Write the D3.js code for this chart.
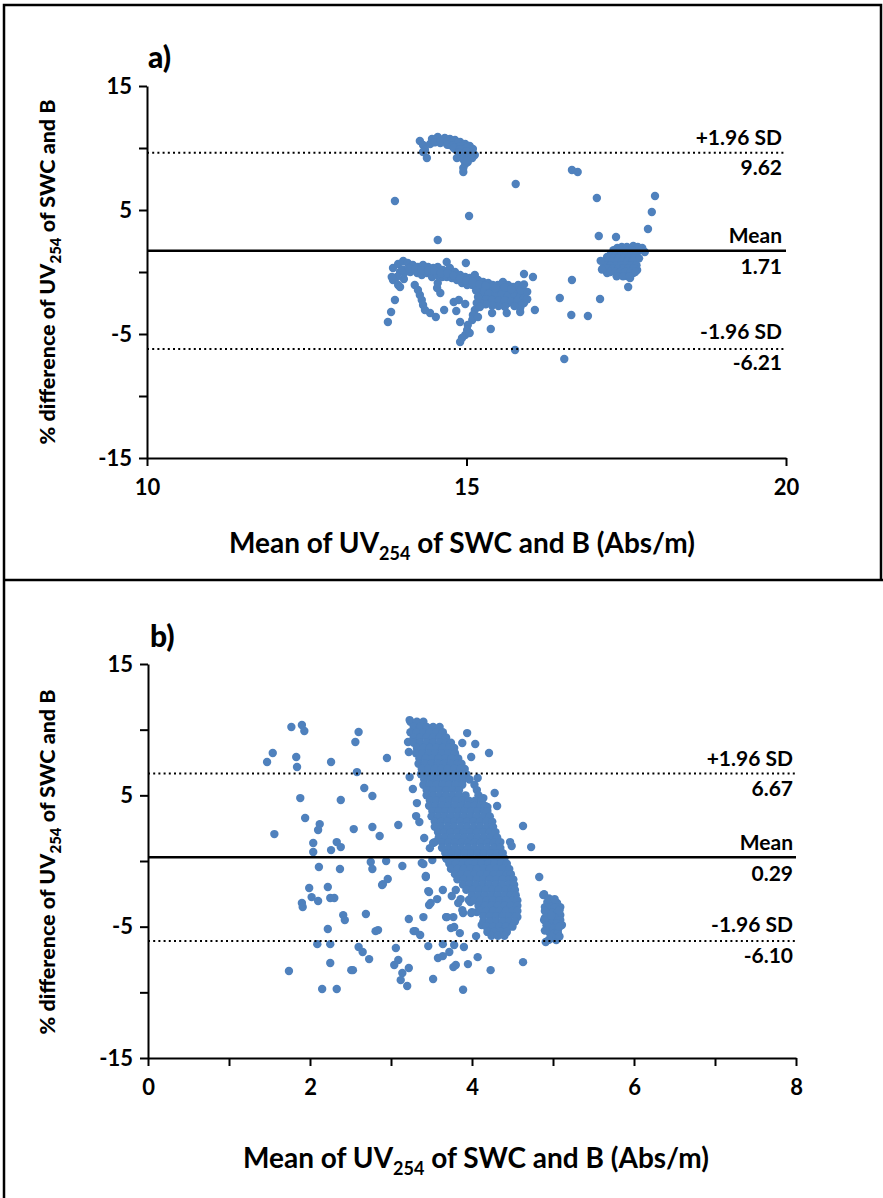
<!DOCTYPE html>
<html><head><meta charset="utf-8">
<script src="https://cdn.jsdelivr.net/npm/d3@7"></script>
<style>
body{margin:0;background:#fff}
svg{display:block}
text{font-family:Lato,"Open Sans",sans-serif;font-weight:bold;fill:#000}
</style>
</head><body>
<svg id="c" width="883" height="1198"></svg>
<script>
// ---------- Panel a data ----------
const xTicksA = [10, 15, 20];
const yTicksA = [15, 10, 5, 0, -5, -10, -15];
const yLabelsA = [15, 5, -5, -15];
const statsA = {upper: 9.62, mean: 1.71, lower: -6.21};
const pointsA = [
 [14.27,10.56],[14.32,10.24],[14.35,9.84],[14.38,9.19],[14.32,9.68],[14.46,10.73],[14.55,10.89],[14.66,10.81],
 [14.74,10.73],[14.82,10.65],[14.90,10.48],[14.98,10.32],[15.05,10.16],[15.10,9.92],[15.13,9.44],[15.09,9.19],
 [15.02,8.87],[14.98,8.71],[14.95,8.39],[14.95,8.06],[14.90,9.27],[14.74,10.24],[14.69,10.40],[14.82,9.92],
 [14.93,9.68],[15.01,9.60],[14.85,9.19],[14.43,10.32],[14.51,10.65],[14.62,10.65],[14.98,9.84],[15.05,9.68],
 [15.02,9.27],[14.59,10.40],[14.87,10.24],[14.95,10.08],
 [14.50,10.45],[14.60,10.55],[14.70,10.55],[14.78,10.50],[14.86,10.45],[14.70,10.25],[14.78,10.20],[14.90,10.15],
 [15.00,10.00],[14.80,10.00],[14.90,9.90],[15.00,9.75],[15.08,9.50],[14.95,9.50],[14.88,9.60],[15.05,9.35],
 [14.95,9.10],[15.00,9.00],
 [13.88,5.73],[15.77,7.10],[15.04,4.52],[14.55,2.58],[16.65,8.23],[16.74,8.06],[17.04,5.97],[17.95,6.13],
 [17.90,4.84],[17.84,3.47],[17.07,2.90],[17.34,2.82],[15.90,-0.16],[16.04,-0.40],[16.65,-0.65],[16.46,-2.10],
 [17.09,-2.18],[16.64,-3.47],[16.90,-3.55],[17.53,-1.21],[15.76,-6.29],[16.53,-7.02],[15.38,-4.60],[16.07,-3.06],
 [15.84,-2.90],[15.84,-3.23],[15.63,-3.31],[15.40,-3.31],[14.65,-3.06],[14.84,-3.15],[14.80,-2.42],[14.88,-2.26],
 [14.98,-2.58],[14.90,-4.03],[13.77,-4.03],[13.82,-3.23],[13.88,-2.26],[14.02,-0.56],[14.99,0.73],[14.52,-3.63],
 [14.43,-3.31],
 [13.85,0.32],[13.93,0.65],[14.01,0.89],[14.08,0.73],[14.16,0.56],[14.24,0.40],[14.32,0.56],[14.40,0.40],
 [14.48,0.32],[14.55,0.40],[14.63,0.16],[14.69,0.81],[14.74,0.32],[14.82,0.00],[14.90,-0.24],[14.98,-0.40],
 [15.05,-0.48],[15.13,-0.24],[15.18,-0.65],[15.26,-0.81],[15.34,-0.89],[15.41,-1.05],[15.49,-1.05],[15.57,-0.81],
 [15.65,-1.05],[15.73,-1.21],[15.81,-1.05],[15.87,-1.21],[13.96,0.00],[13.91,-0.40],[13.85,-0.65],[13.83,-0.40],
 [13.93,-1.05],[13.96,-1.21],[14.04,0.00],[14.12,0.00],[14.23,-0.08],[14.30,-0.24],[14.38,-0.08],[14.46,-0.40],
 [14.54,-0.24],[14.62,-0.40],[14.69,-0.40],[14.77,-0.48],[14.85,-0.65],[14.93,-0.89],[15.01,-1.05],[15.09,-1.05],
 [15.16,-1.21],[15.24,-1.29],[15.32,-1.45],[15.40,-1.61],[15.48,-1.45],[15.56,-1.45],[15.63,-1.61],[15.71,-1.69],
 [15.79,-1.69],[15.87,-1.69],[15.21,-1.85],[15.29,-2.02],[15.37,-2.02],[15.45,-2.10],[15.52,-2.02],[15.60,-2.10],
 [15.68,-2.26],[15.76,-2.26],[15.84,-2.02],[15.41,-2.42],[15.49,-2.50],[15.57,-2.50],[15.65,-2.50],[15.73,-2.42],
 [15.26,-2.26],[15.34,-2.42],
 [14.00,0.20],[14.10,0.30],[14.20,0.20],[14.30,0.15],[14.40,0.10],[14.50,0.10],[14.60,-0.10],[14.70,-0.10],
 [14.80,-0.30],[14.90,-0.50],[15.00,-0.70],[15.10,-0.80],
 [15.25,-1.60],[15.35,-1.75],[15.45,-1.80],[15.55,-1.80],[15.65,-1.90],[15.75,-1.95],[15.85,-1.90],[15.30,-2.20],
 [15.40,-2.25],[15.50,-2.30],[15.60,-2.30],[15.70,-2.35],[15.80,-2.30],[15.90,-2.10],[15.90,-2.50],[15.85,-2.70],
 [15.75,-2.75],[15.60,-2.80],[15.50,-2.75],[15.40,-2.70],[15.30,-2.60],[15.20,-2.40],[15.15,-1.50],[15.20,-1.00],
 [15.30,-1.10],[15.45,-1.30],[15.60,-1.25],[15.70,-1.40],[15.85,-1.45],[15.90,-1.00],[15.95,-1.60],[15.95,-2.20],
 [14.19,-1.05],[14.24,-1.45],[14.27,-1.85],[14.30,-2.26],[14.32,-2.66],[14.35,-3.06],[14.54,-1.29],[14.59,-1.69],
 [14.55,-0.89],
 [15.18,-2.02],[15.16,-2.50],[15.13,-3.06],[15.10,-3.47],[15.09,-3.87],[15.02,-4.27],[15.01,-4.68],[14.98,-5.08],
 [14.93,-5.32],[14.90,-5.65],[15.21,-2.82],[15.18,-3.63],[15.05,-4.92],
 [17.36,1.94],[17.43,2.02],[17.51,2.02],[17.61,2.10],[17.68,2.02],[17.75,1.94],[17.79,1.61],[17.20,1.21],
 [17.28,1.37],[17.36,1.37],[17.43,1.53],[17.51,1.53],[17.59,1.61],[17.17,0.73],[17.25,0.81],[17.32,0.81],
 [17.40,0.81],[17.48,0.97],[17.56,0.97],[17.61,1.21],[17.14,0.32],[17.20,-0.08],[17.29,0.40],[17.37,0.40],
 [17.45,0.32],[17.53,0.40],[17.43,-0.08],[17.51,-0.32],[17.56,-0.48],[17.67,0.16],[17.61,-0.08],
 [17.30,1.75],[17.40,1.75],[17.50,1.75],[17.60,1.75],[17.70,1.75],
 [17.26,1.45],[17.34,1.45],[17.42,1.45],[17.50,1.45],[17.58,1.45],[17.66,1.45],
 [17.22,1.10],[17.30,1.10],[17.38,1.10],[17.46,1.10],[17.54,1.10],[17.62,1.10],[17.70,1.10],
 [17.20,0.85],[17.28,0.85],[17.36,0.85],[17.44,0.85],[17.52,0.85],[17.60,0.85],
 [17.18,0.55],[17.26,0.55],[17.34,0.55],[17.42,0.55],[17.50,0.55],[17.58,0.55],[17.66,0.55],
 [17.22,0.30],[17.30,0.30],[17.38,0.30],[17.46,0.30],[17.54,0.30],[17.62,0.30],
 [17.25,0.00],[17.33,0.00],[17.41,0.00],[17.49,0.00],[17.57,0.00],[17.64,0.00],
 [17.35,-0.35],[17.45,-0.35],[17.55,-0.35],[17.10,0.90],[17.12,0.20]
];

// ---------- Panel b data ----------
const xTicksB = [0, 1, 2, 3, 4, 5, 6, 7, 8];
const xLabelsB = [0, 2, 4, 6, 8];
const yTicksB = [15, 10, 5, 0, -5, -10, -15];
const yLabelsB = [15, 5, -5, -15];
const statsB = {upper: 6.67, mean: 0.29, lower: -6.10};
// dense core: rows of [y, [x values]]
const coreRowsB = [
 [10.6,[3.24,3.32,3.40]],
 [10.2,[3.28,3.36,3.44,3.52,3.60]],
 [9.8,[3.24,3.32,3.40,3.48,3.56,3.64]],
 [9.4,[3.28,3.36,3.44,3.52,3.60,3.68]],
 [9.0,[3.28,3.36,3.44,3.52,3.60,3.68,3.74]],
 [8.6,[3.32,3.40,3.48,3.56,3.64,3.72,3.78]],
 [8.2,[3.31,3.39,3.47,3.55,3.63,3.71,3.79]],
 [7.8,[3.35,3.43,3.51,3.59,3.67,3.75,3.83]],
 [7.4,[3.34,3.42,3.50,3.58,3.66,3.74,3.82,3.87]],
 [7.0,[3.38,3.46,3.54,3.62,3.70,3.78,3.86,3.91]],
 [6.6,[3.37,3.45,3.53,3.61,3.69,3.77,3.85,3.93]],
 [6.2,[3.41,3.49,3.57,3.65,3.73,3.81,3.89,3.97]],
 [5.8,[3.40,3.48,3.56,3.64,3.72,3.80,3.88,4.03]],
 [5.4,[3.44,3.52,3.60,3.68,3.76,3.84,4.06]],
 [5.0,[3.44,3.52,3.60,3.68,3.76,3.84,3.92,4.08]],
 [4.6,[3.48,3.56,3.64,3.72,3.80,3.88,3.96,4.04,4.12]],
 [4.2,[3.47,3.55,3.63,3.71,3.79,3.87,3.95,4.03,4.11,4.16]],
 [3.8,[3.51,3.59,3.67,3.75,3.83,3.91,3.99,4.07,4.15,4.19]],
 [3.4,[3.50,3.58,3.66,3.74,3.82,3.90,3.98,4.06,4.14,4.22]],
 [3.0,[3.54,3.62,3.70,3.78,3.86,3.94,4.02,4.10,4.18,4.25]],
 [2.6,[3.54,3.62,3.70,3.78,3.86,3.94,4.02,4.10,4.18,4.26]],
 [2.2,[3.58,3.66,3.74,3.82,3.90,3.98,4.06,4.14,4.22,4.29]],
 [1.8,[3.59,3.67,3.75,3.83,3.91,3.99,4.07,4.15,4.23,4.31]],
 [1.4,[3.63,3.71,3.79,3.87,3.95,4.03,4.11,4.19,4.27,4.34]],
 [1.0,[3.63,3.71,3.79,3.87,3.95,4.03,4.11,4.19,4.27,4.35]],
 [0.6,[3.67,3.75,3.83,3.91,3.99,4.07,4.15,4.23,4.31,4.38]],
 [0.2,[3.68,3.76,3.84,3.92,4.00,4.08,4.16,4.24,4.32,4.40]],
 [-0.2,[3.72,3.80,3.88,3.96,4.04,4.12,4.20,4.28,4.36,4.43]],
 [-0.6,[3.74,3.82,3.90,3.98,4.06,4.14,4.22,4.30,4.38,4.46]],
 [-1.0,[3.79,3.87,3.95,4.03,4.11,4.19,4.27,4.35,4.43,4.48]],
 [-1.4,[3.82,3.90,3.98,4.06,4.14,4.22,4.30,4.38,4.46,4.51]],
 [-1.8,[3.89,3.97,4.05,4.13,4.21,4.29,4.37,4.45,4.52]],
 [-2.2,[3.93,4.01,4.09,4.17,4.25,4.33,4.41,4.49,4.53]],
 [-2.6,[4.00,4.08,4.16,4.24,4.32,4.40,4.48,4.54]],
 [-3.0,[4.02,4.10,4.18,4.26,4.34,4.42,4.50,4.56]],
 [-3.4,[4.08,4.16,4.24,4.32,4.40,4.48,4.56]],
 [-3.8,[4.10,4.18,4.26,4.34,4.42,4.50,4.56]],
 [-4.2,[4.14,4.22,4.30,4.38,4.46,4.54]],
 [-4.6,[4.14,4.22,4.30,4.38,4.46,4.53]],
 [-5.0,[4.18,4.26,4.34,4.42,4.50]],
 [-5.4,[4.19,4.27,4.35,4.43]],
 [-5.7,[4.24,4.32,4.40]]
];
const scatterB = [
 [1.77,10.20],[1.90,10.35],[1.93,9.90],[1.54,8.22],[1.47,7.54],[1.83,7.92],[1.84,7.16],[2.26,7.54],
 [2.58,6.77],[2.60,9.82],[2.56,9.06],[2.95,7.84],[1.88,4.79],[2.38,4.64],[2.67,5.56],[2.77,4.95],
 [1.94,3.27],[2.12,2.81],[2.10,2.36],[1.56,2.05],[2.54,2.43],[2.77,2.59],[2.86,1.90],[3.09,2.74],
 [2.04,1.37],[2.04,0.68],[2.33,1.44],[2.38,1.06],[2.26,0.83],[2.11,-0.46],[2.37,-0.61],[2.75,-0.08],
 [2.77,-0.61],[2.94,0.00],[3.14,-0.38],[2.96,-1.37],[2.89,-1.83],[1.99,-2.06],[2.02,-2.75],[1.90,-3.20],
 [1.91,-3.51],[2.10,-3.05],[2.22,-1.98],[2.25,-2.82],[2.30,-2.82],[2.41,-4.12],[2.43,-4.50],[2.69,-4.04],
 [2.22,-5.18],[2.81,-5.34],[2.84,-5.26],[3.22,-4.42],[3.30,-5.34],[3.36,-5.64],[2.09,-6.33],[2.25,-6.33],
 [2.60,-6.55],[2.65,-6.93],[2.73,-7.47],[3.06,-6.63],[3.09,-7.54],[3.04,-7.92],[2.25,-7.77],[1.74,-8.38],
 [2.51,-8.31],[2.53,-8.31],[3.22,-8.15],[3.14,-8.53],[3.12,-9.07],[3.20,-9.52],[2.15,-9.75],[2.33,-9.75],
 [3.23,10.73],[3.21,9.06],[3.22,8.30],[3.23,6.39],[3.27,5.48],[3.32,4.41],[3.31,3.42],[3.35,2.97],
 [3.41,1.75],[3.40,-0.23],[3.43,-1.22],[3.46,-2.29],[3.47,-3.35],[3.40,-4.27],[3.46,-6.48],
 [3.94,9.74],[3.88,8.98],[4.04,8.91],[4.21,8.22],[3.99,7.92],[4.07,6.32],[4.28,5.18],[4.31,4.19],
 [4.19,4.11],[4.14,4.79],[4.63,2.66],[4.73,1.06],[4.47,1.44],[4.49,1.14],[3.38,-0.15],[2.90,-1.76],
 [3.43,-1.14],[3.64,-2.21],[3.47,-2.36],[3.49,-3.20],[3.57,-2.90],[3.75,-2.67],[3.80,-2.21],[4.83,-1.22],
 [4.89,-2.52],[3.68,-4.27],[3.77,-4.27],[3.78,-5.03],[3.74,-5.11],[3.85,-5.49],[3.98,-3.13],[3.83,-3.20],
 [3.89,-3.96],[3.99,-3.96],[4.06,-3.89],[3.64,-6.33],[3.78,-6.40],[3.90,-6.55],[4.05,-5.72],[4.42,-5.34],
 [4.56,-4.27],[4.63,-7.70],[4.07,-7.32],[4.23,-8.31],[3.95,-7.85],[3.77,-8.08],[3.80,-7.92],[3.72,-6.93],
 [3.58,-7.39],[3.64,-7.24],[3.52,-8.99],[3.89,-9.80],
 [3.69,0.15],[3.51,0.07],[3.54,1.44],[3.52,1.37],[3.48,0.98],[4.35,1.44],[3.86,-2.90],[3.96,-2.97],
 [3.88,-3.74],[4.00,-3.89],[4.12,-4.88],[4.22,-5.11],[3.28,-5.34],[3.69,-4.27],
 [4.93,-3.13],[4.99,-3.13],[5.05,-3.20],[5.09,-3.51],[4.90,-3.51],[4.96,-3.51],[5.02,-3.58],[4.93,-3.96],
 [4.99,-3.96],[5.05,-3.96],[5.09,-4.12],[4.90,-4.34],[4.96,-4.34],[5.02,-4.34],[5.09,-4.50],[4.93,-4.73],
 [4.99,-4.73],[5.05,-4.73],[5.11,-4.88],[4.94,-5.11],[5.00,-5.11],[5.06,-5.26],[4.96,-5.49],[5.02,-5.49],
 [5.06,-5.49],[5.00,-5.87],[5.04,-6.02],[4.91,-6.17],[4.89,-4.50],[4.88,-2.59],
 [4.95,-2.85],[5.02,-2.90],[4.90,-3.80],[5.08,-3.75],[4.98,-4.15],[4.92,-4.90],[5.08,-5.00],[4.90,-5.30],
 [4.98,-5.75],[5.08,-5.75],[4.95,-6.00]
];
const pointsB = scatterB.concat(coreRowsB.flatMap(([y, xs]) => xs.map(x => [x, y])));

// ---------- drawing ----------
const svg = d3.select("#c");
const BLUE = "#4F81BD";

// frame
svg.append("path").attr("d","M4,1198 V5 H881 V580")
  .attr("fill","none").attr("stroke","#000").attr("stroke-width",2.5);
svg.append("line").attr("x1",4).attr("x2",883).attr("y1",580).attr("y2",580)
  .attr("stroke","#000").attr("stroke-width",2.5);

function panel(o){
  const g = svg.append("g");
  const x = d3.scaleLinear().domain(o.xDomain).range([o.left, o.right]);
  const y = d3.scaleLinear().domain([15,-15]).range([o.top, o.bottom]);

  g.append("g").selectAll("circle").data(o.points).join("circle")
    .attr("cx", d => x(d[0])).attr("cy", d => y(d[1])).attr("r", 4.2)
    .attr("fill", BLUE);

  ["upper","lower"].forEach(k => {
    g.append("line").attr("x1", o.left).attr("x2", o.right)
      .attr("y1", y(o.stats[k])).attr("y2", y(o.stats[k]))
      .attr("stroke","#000").attr("stroke-width",2).attr("stroke-dasharray","2,3.2");
  });
  g.append("line").attr("x1", o.left).attr("x2", o.right)
    .attr("y1", y(o.stats.mean)).attr("y2", y(o.stats.mean))
    .attr("stroke","#000").attr("stroke-width",2.5);

  const ya = d3.axisLeft(y).tickValues(o.yTicks).tickSize(8).tickSizeOuter(0).tickPadding(7)
    .tickFormat(d => o.yLabels.includes(d) ? String(d) : "");
  const yg = g.append("g").attr("transform",`translate(${o.left},0)`).call(ya);
  const xa = d3.axisBottom(x).tickValues(o.xTicks).tickSize(8).tickSizeOuter(0).tickPadding(13)
    .tickFormat(d => o.xLabels.includes(d) ? String(d) : "");
  const xg = g.append("g").attr("transform",`translate(0,${o.bottom})`).call(xa);
  [yg,xg].forEach(a => {
    a.select(".domain").attr("stroke","#000").attr("stroke-width",2);
    a.selectAll(".tick line").attr("stroke","#000").attr("stroke-width",2);
    a.selectAll(".tick text").style("font-size","22px").style("font-family","Lato, sans-serif").style("font-weight","bold");
  });

  const lab = (txt, yy) => g.append("text").attr("x", o.labelX).attr("y", yy)
    .attr("text-anchor","end").attr("dominant-baseline","middle")
    .style("font-size","21px").text(txt);
  lab("+1.96 SD", y(o.stats.upper) - 13);
  lab(o.stats.upper.toFixed(2), y(o.stats.upper) + 17);
  lab("Mean", y(o.stats.mean) - 13);
  lab(o.stats.mean.toFixed(2), y(o.stats.mean) + 18);
  lab("-1.96 SD", y(o.stats.lower) - 15);
  lab(o.stats.lower.toFixed(2), y(o.stats.lower) + 16);

  g.append("text").attr("x", o.letterX).attr("y", o.letterY)
    .style("font-size","30px").style("font-weight","900").text(o.letter);

  const xt = g.append("text").attr("x", o.xTitleX).attr("y", o.xTitleY)
    .attr("text-anchor","middle").style("font-size","28px").style("font-weight","bold");
  xt.append("tspan").text("Mean of UV");
  xt.append("tspan").attr("dy",7).style("font-size","18px").text("254");
  xt.append("tspan").attr("dy",-7).text(" of SWC and B (Abs/m)");

  const yt = g.append("text")
    .attr("transform",`translate(${o.yTitleX},${o.yTitleY}) rotate(-90)`)
    .attr("text-anchor","middle").style("font-size","21.5px").style("font-weight","900");
  yt.append("tspan").text("% difference of UV");
  yt.append("tspan").attr("dy",6).style("font-size","15px").text("254");
  yt.append("tspan").attr("dy",-6).text("  of SWC and B");
}

panel({left:147, right:786, top:86, bottom:458, xDomain:[10,20],
  xTicks:xTicksA, xLabels:xTicksA, yTicks:yTicksA, yLabels:yLabelsA,
  stats:statsA, points:pointsA, labelX:782, letter:"a)", letterX:148, letterY:68,
  xTitleX:462, xTitleY:553, yTitleX:55, yTitleY:272});

panel({left:148, right:796, top:664, bottom:1058, xDomain:[0,8],
  xTicks:xTicksB, xLabels:xLabelsB, yTicks:yTicksB, yLabels:yLabelsB,
  stats:statsB, points:pointsB, labelX:793, letter:"b)", letterX:150, letterY:647,
  xTitleX:476, xTitleY:1168, yTitleX:55, yTitleY:862});
</script>
</body></html>
